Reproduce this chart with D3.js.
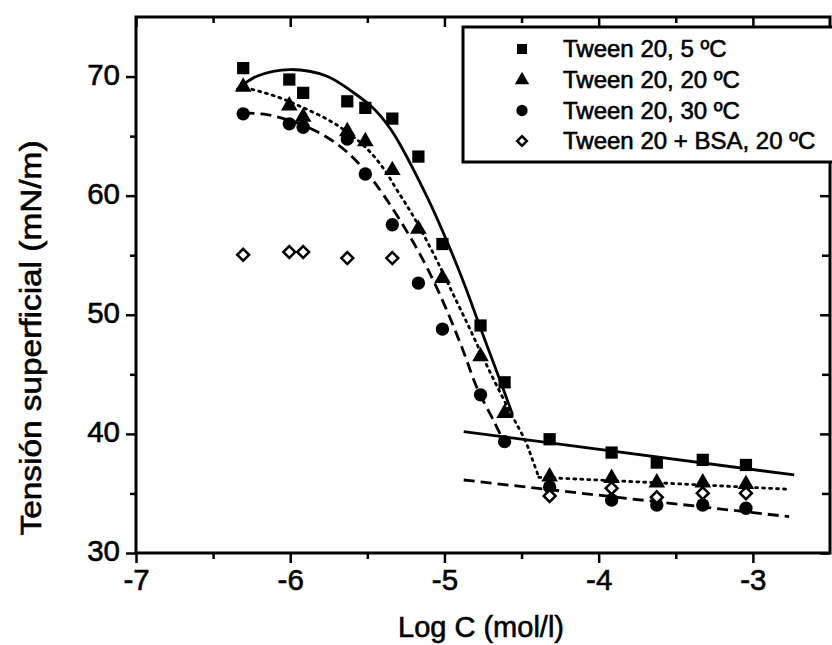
<!DOCTYPE html>
<html>
<head>
<meta charset="utf-8">
<script src="https://cdn.jsdelivr.net/npm/d3@7/dist/d3.min.js"></script>
<style>
  html, body { margin: 0; padding: 0; background: #fff; }
  svg { display: block; font-family: "Liberation Sans", Arial, sans-serif; }
  text { fill: #000; stroke: #000; stroke-width: 0.6px; }
</style>
</head>
<body>
<svg id="chart" width="832" height="645"></svg>
<script>
// Log of concentration (mol/l) for each measured solution
const logC = [-6.305, -6.006, -5.916, -5.63, -5.513, -5.338, -5.169, -5.013, -4.766, -4.61, -4.318, -3.916, -3.623, -3.325, -3.045];

// Surface tension (mN/m) per series
const t5 = [70.71, 69.75, 68.63, 67.92, 67.37, 66.47, 63.28, 55.94, 49.1, 44.33, 39.55, 38.43, 37.59, 37.82, 37.39];
const t20 = [69.13, 67.56, 66.61, 65.4, 64.56, 62.13, 57.2, 53.08, 46.5, 41.74, 36.41, 36.28, 35.91, 35.91, 35.77];
const t30 = [66.87, 66.03, 65.74, 64.76, 61.82, 57.56, 52.66, 48.8, 43.28, 39.35, 35.55, 34.45, 34.03, 34.03, 33.76];

const logCBsa = [-6.305, -6.006, -5.916, -5.63, -5.338, -4.318, -3.916, -3.623, -3.325, -3.045];
const tBsa = [55.04, 55.27, 55.27, 54.76, 54.76, 34.79, 35.44, 34.68, 35.02, 35.02];

// Fitted curves: [logC, tension]
const fit5Pre = [[-6.346, 68.91], [-6.216, 70.03], [-6.0, 70.59], [-5.762, 70.03], [-5.591, 68.66], [-5.461, 67.33], [-5.351, 65.62], [-5.286, 64.25], [-5.112, 59.87], [-5.006, 56.84], [-4.877, 52.78], [-4.766, 48.86], [-4.636, 44.38], [-4.558, 41.61]];
const fit5Post = [[-4.875, 40.19], [-2.732, 36.55]];
const fit20Pre = [[-6.292, 69.08], [-6.086, 68.31], [-5.935, 67.5], [-5.762, 66.43], [-5.632, 65.35], [-5.502, 63.94], [-5.394, 62.26], [-5.307, 60.46], [-5.199, 58.21], [-5.07, 55.1], [-4.961, 52.2], [-4.831, 48.7], [-4.701, 45.1], [-4.571, 41.76], [-4.474, 39.37], [-4.431, 37.89], [-4.388, 36.36]];
const fit20Post = [[-4.388, 36.36], [-3.597, 35.88], [-2.764, 35.35]];
const fit30Pre = [[-6.303, 66.95], [-6.151, 66.81], [-6.006, 66.33], [-5.916, 65.92], [-5.762, 64.91], [-5.632, 63.67], [-5.502, 61.91], [-5.394, 60.04], [-5.242, 56.96], [-5.112, 53.94], [-4.982, 50.3], [-4.875, 46.86], [-4.788, 43.84], [-4.68, 41.08], [-4.615, 39.35]];
const fit30Post = [[-4.875, 36.13], [-2.765, 33.05]];

const xMajor = [-7, -6, -5, -4, -3];
const xMinor = [-6.5, -5.5, -4.5, -3.5];
const yMajor = [30, 40, 50, 60, 70];
const yMinor = [35, 45, 55, 65];

const legendLabels = ["Tween 20, 5 ºC", "Tween 20, 20 ºC", "Tween 20, 30 ºC", "Tween 20 + BSA, 20 ºC"];
const xTitle = "Log C (mol/l)";
const yTitle = "Tensión superficial (mN/m)";

const svg = d3.select("#chart");
const x = d3.scaleLinear().domain([-7, -2.5]).range([136, 830]);
const y = d3.scaleLinear().domain([30, 75]).range([553, 17]);

const smooth = d3.line().x(d => x(d[0])).y(d => y(d[1])).curve(d3.curveCatmullRom.alpha(0.5));
const straight = d3.line().x(d => x(d[0])).y(d => y(d[1]));
const plainNum = d => String(d);

// Axes: outward ticks on left/bottom, inward mirrored ticks on top/right
function styleAxis(g) {
  g.select(".domain").remove();
  g.selectAll(".tick line").attr("stroke", "#000").attr("stroke-width", 2.5);
}
const fontAxis = 29.5;
svg.append("g").attr("transform", `translate(0,${y(30)})`)
  .call(d3.axisBottom(x).tickValues(xMajor).tickSize(10).tickPadding(6).tickFormat(plainNum))
  .call(styleAxis)
  .call(g => g.selectAll("text").attr("font-size", fontAxis).attr("font-family", "Liberation Sans, Arial"));
svg.append("g").attr("transform", `translate(0,${y(30)})`)
  .call(d3.axisBottom(x).tickValues(xMinor).tickSize(6).tickFormat(""))
  .call(styleAxis);
svg.append("g").attr("transform", `translate(${x(-7)},0)`)
  .call(d3.axisLeft(y).tickValues(yMajor).tickSize(10).tickPadding(6).tickFormat(plainNum))
  .call(styleAxis)
  .call(g => g.selectAll("text").attr("font-size", fontAxis).attr("font-family", "Liberation Sans, Arial").attr("dy", "0.26em"));
svg.append("g").attr("transform", `translate(${x(-7)},0)`)
  .call(d3.axisLeft(y).tickValues(yMinor).tickSize(6).tickFormat(""))
  .call(styleAxis);
svg.append("g").attr("transform", `translate(0,${y(75)})`)
  .call(d3.axisTop(x).tickValues(xMajor).tickSize(-10).tickFormat(""))
  .call(styleAxis);
svg.append("g").attr("transform", `translate(0,${y(75)})`)
  .call(d3.axisTop(x).tickValues(xMinor).tickSize(-6).tickFormat(""))
  .call(styleAxis);
svg.append("g").attr("transform", `translate(${x(-2.5)},0)`)
  .call(d3.axisRight(y).tickValues(yMajor).tickSize(-10).tickFormat(""))
  .call(styleAxis);
svg.append("g").attr("transform", `translate(${x(-2.5)},0)`)
  .call(d3.axisRight(y).tickValues(yMinor).tickSize(-8).tickFormat(""))
  .call(styleAxis);

// Frame
svg.append("rect")
  .attr("x", x(-7)).attr("y", y(75))
  .attr("width", x(-2.5) - x(-7)).attr("height", y(30) - y(75))
  .attr("fill", "none").attr("stroke", "#000").attr("stroke-width", 3);

// Axis titles
svg.append("text").attr("x", 481).attr("y", 637).attr("text-anchor", "middle")
  .attr("font-size", 29).text(xTitle);
svg.append("text").attr("transform", "translate(41,338) rotate(-90)").attr("text-anchor", "middle")
  .attr("font-size", 29).attr("textLength", 395).attr("lengthAdjust", "spacingAndGlyphs").text(yTitle);

// Fitted curves
const plot = svg.append("g");
function drawFit(data, gen, dash) {
  plot.append("path").datum(data).attr("d", gen).attr("fill", "none")
    .attr("stroke", "#000").attr("stroke-width", 2.8)
    .attr("stroke-dasharray", dash).attr("stroke-linecap", dash === "2,5" ? "round" : "butt");
}
drawFit(fit5Pre, smooth, null);
drawFit(fit5Post, straight, null);
drawFit(fit20Pre, smooth, "2,5");
drawFit(fit20Post, straight, "2,5");
drawFit(fit30Pre, smooth, "11,6");
drawFit(fit30Post, straight, "11,6");

// Markers
const symSquare = d3.symbol().type(d3.symbolSquare).size(150);
const symTri = d3.symbol().type(d3.symbolTriangle).size(120);
const symCircle = d3.symbol().type(d3.symbolCircle).size(140);
const symDiamond = d3.symbol().type(d3.symbolDiamond2).size(90);

function drawMarkers(xs, ys, sym, hollow) {
  plot.append("g").selectAll("path").data(xs.map((v, i) => [v, ys[i]])).join("path")
    .attr("transform", d => `translate(${x(d[0])},${y(d[1])})`)
    .attr("d", sym)
    .attr("fill", hollow ? "#fff" : "#000")
    .attr("stroke", "#000").attr("stroke-width", hollow ? 2.5 : 0);
}
drawMarkers(logC, t5, symSquare, false);
drawMarkers(logC, t20, symTri, false);
drawMarkers(logC, t30, symCircle, false);
drawMarkers(logCBsa, tBsa, symDiamond, true);

// Legend
const leg = svg.append("g");
leg.append("rect").attr("x", 463).attr("y", 27).attr("width", 380).attr("height", 135)
  .attr("fill", "#fff").attr("stroke", "#000").attr("stroke-width", 3);
const legSyms = [
  d3.symbol().type(d3.symbolSquare).size(100),
  d3.symbol().type(d3.symbolTriangle).size(90),
  d3.symbol().type(d3.symbolCircle).size(100),
  d3.symbol().type(d3.symbolDiamond2).size(60)
];
const legBase = [57, 88, 118.5, 149];
legendLabels.forEach((lab, i) => {
  leg.append("path").attr("transform", `translate(522,${legBase[i] - 8})`).attr("d", legSyms[i])
    .attr("fill", i === 3 ? "#fff" : "#000").attr("stroke", "#000").attr("stroke-width", i === 3 ? 2.5 : 0);
  leg.append("text").attr("x", 563).attr("y", legBase[i]).attr("font-size", 24).text(lab);
});
</script>
</body>
</html>
